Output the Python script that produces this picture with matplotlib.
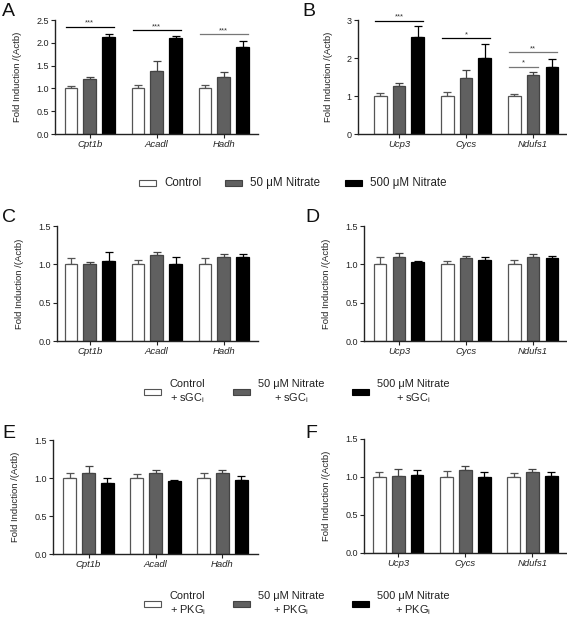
import numpy as np
import matplotlib
matplotlib.use("Agg")
import matplotlib.pyplot as plt
from matplotlib.patches import Rectangle

plt.rcParams['font.family'] = ['Liberation Sans', 'DejaVu Sans']
plt.rcParams['mathtext.fontset'] = 'custom'
plt.rcParams['mathtext.rm'] = 'Liberation Sans'

genes_left = ['Cpt1b', 'Acadl', 'Hadh']
genes_right = ['Ucp3', 'Cycs', 'Ndufs1']

# mean values, rows = genes, cols = control / 50 uM / 500 uM
A_mean = [[1.0, 1.21, 2.13], [1.0, 1.38, 2.10], [1.0, 1.26, 1.90]]
A_err = [[0.06, 0.05, 0.07], [0.07, 0.21, 0.05], [0.07, 0.10, 0.15]]
B_mean = [[1.0, 1.26, 2.54], [1.0, 1.47, 2.0], [1.0, 1.56, 1.76]]
B_err = [[0.07, 0.09, 0.31], [0.10, 0.21, 0.36], [0.05, 0.07, 0.22]]
C_mean = [[1.0, 1.01, 1.05], [1.0, 1.12, 1.01], [1.0, 1.09, 1.10]]
C_err = [[0.08, 0.02, 0.11], [0.06, 0.04, 0.08], [0.08, 0.04, 0.03]]
D_mean = [[1.0, 1.09, 1.03], [1.0, 1.08, 1.06], [1.0, 1.09, 1.08]]
D_err = [[0.10, 0.06, 0.02], [0.05, 0.03, 0.03], [0.06, 0.04, 0.03]]
E_mean = [[1.0, 1.07, 0.94], [1.0, 1.06, 0.96], [1.0, 1.06, 0.98]]
E_err = [[0.07, 0.09, 0.06], [0.05, 0.05, 0.02], [0.06, 0.05, 0.04]]
F_mean = [[1.0, 1.01, 1.03], [1.0, 1.09, 1.0], [1.0, 1.06, 1.01]]
F_err = [[0.06, 0.09, 0.06], [0.08, 0.06, 0.07], [0.05, 0.04, 0.06]]

# significance: (gene index, from bar, to bar, height, label)
A_sig = [(0, 0, 2, 2.35, '***'), (1, 0, 2, 2.27, '***'), (2, 0, 2, 2.19, '***')]
B_sig = [(0, 0, 2, 2.98, '***'), (1, 0, 2, 2.52, '*'), (2, 0, 2, 2.15, '**'), (2, 0, 1, 1.77, '*')]

legend_top = ['Control', '50 \u03bcM Nitrate', '500 \u03bcM Nitrate']
legend_sgc = ['Control\n+ sGC$_\\mathregular{i}$', '50 \u03bcM Nitrate\n+ sGC$_\\mathregular{i}$',
              '500 \u03bcM Nitrate\n+ sGC$_\\mathregular{i}$']
legend_pkg = ['Control\n+ PKG$_\\mathregular{i}$', '50 \u03bcM Nitrate\n+ PKG$_\\mathregular{i}$',
              '500 \u03bcM Nitrate\n+ PKG$_\\mathregular{i}$']

fills = ['white', '#606060', 'black']
edges = ['#555555', '#444444', 'black']
offs = [-0.28, 0.0, 0.28]
W, H = 567, 618

fig = plt.figure(figsize=(W / 100, H / 100), dpi=100)


def px_axes(x0, x1, y0, y1):
    return fig.add_axes([x0 / W, 1 - y1 / H, (x1 - x0) / W, (y1 - y0) / H])


def panel(ax, genes, mean, err, ymax, yticks, ylabels, xlim, sig=None, sig_grey=()):
    mean = np.array(mean)
    err = np.array(err)
    x = np.arange(len(genes))
    for j in range(3):
        ax.bar(x + offs[j], mean[:, j], width=0.19, color=fills[j], edgecolor=edges[j],
               linewidth=0.9, zorder=2)
        ax.errorbar(x + offs[j], mean[:, j], yerr=[np.zeros(3), err[:, j]], fmt='none',
                    ecolor=edges[j], elinewidth=0.9, capsize=2.8, capthick=0.9, zorder=1)
    ax.set_xlim(*xlim)
    ax.set_ylim(0, ymax)
    ax.set_yticks(yticks)
    ax.set_yticklabels(ylabels, fontsize=6.5, color='#222222')
    ax.set_xticks(x)
    ax.set_xticklabels(genes, fontsize=6.8, style='italic', color='#222222')
    ax.tick_params(length=3, width=0.8, pad=1.5, colors='#222222')
    for s in ['top', 'right']:
        ax.spines[s].set_visible(False)
    for s in ['left', 'bottom']:
        ax.spines[s].set_linewidth(1.0)
        ax.spines[s].set_color('#222222')
    ax.set_ylabel('Fold Induction /(Actb)', fontsize=6.8, color='#222222', labelpad=10)
    if sig:
        for k, (g, a, b, h, lab) in enumerate(sig):
            c = '#777777' if k in sig_grey else 'black'
            ax.plot([g + offs[a] - 0.08, g + offs[b] + 0.08], [h, h], color=c, lw=0.9,
                    clip_on=False)
            ax.text(g + (offs[a] + offs[b]) / 2, h, lab, ha='center', va='bottom',
                    fontsize=5.5, color='#333333')


axA = px_axes(55, 258, 20, 134)
panel(axA, genes_left, A_mean, A_err, 2.5, np.arange(0, 2.51, 0.5),
      ['0.0', '0.5', '1.0', '1.5', '2.0', '2.5'], (-0.52, 2.51), A_sig, sig_grey=(2,))
axB = px_axes(358, 566, 20, 134)
panel(axB, genes_right, B_mean, B_err, 3, [0, 1, 2, 3], ['0', '1', '2', '3'], (-0.61, 2.49),
      B_sig, sig_grey=(2, 3))
small_ticks = [0, 0.5, 1.0, 1.5]
small_labels = ['0.0', '0.5', '1.0', '1.5']
axC = px_axes(57, 258, 226, 341)
panel(axC, genes_left, C_mean, C_err, 1.5, small_ticks, small_labels, (-0.49, 2.51))
axD = px_axes(364, 566, 226, 341)
panel(axD, genes_right, D_mean, D_err, 1.5, small_ticks, small_labels, (-0.52, 2.49))
axE = px_axes(53, 258, 440, 554)
panel(axE, genes_left, E_mean, E_err, 1.5, small_ticks, small_labels, (-0.53, 2.53))
axF = px_axes(364, 566, 439, 553)
panel(axF, genes_right, F_mean, F_err, 1.5, small_ticks, small_labels, (-0.51, 2.5))

for lab, (xp, yp) in zip('ABCDEF', [(2, 12), (302, 12), (2, 218), (305, 218), (2, 434), (305, 434)]):
    fig.text(xp / W, 1 - yp / H, lab, fontsize=14, va='center', ha='left', color='#111111')


def legend_row(labels, ycen, box_x, text_x, aligns, fs):
    for j in range(3):
        fig.add_artist(Rectangle((box_x[j] / W, 1 - (ycen + 3) / H), 17 / W, 6 / H,
                                 transform=fig.transFigure, facecolor=fills[j],
                                 edgecolor=edges[j], linewidth=0.8))
        fig.text(text_x[j] / W, 1 - ycen / H, labels[j], fontsize=fs, va='center',
                 ha=aligns[j], multialignment=aligns[j], color='#222222', linespacing=1.15)


legend_row(legend_top, 183, [139, 225, 345], [164, 250, 370], ['left', 'left', 'left'], 8.3)
legend_row(legend_sgc, 392, [144, 233, 352], [170, 291, 413], ['left', 'center', 'center'], 7.9)
legend_row(legend_pkg, 604, [144, 233, 352], [170, 291, 413], ['left', 'center', 'center'], 7.9)

fig.savefig('out.png', dpi=100)
plt.close(fig)
